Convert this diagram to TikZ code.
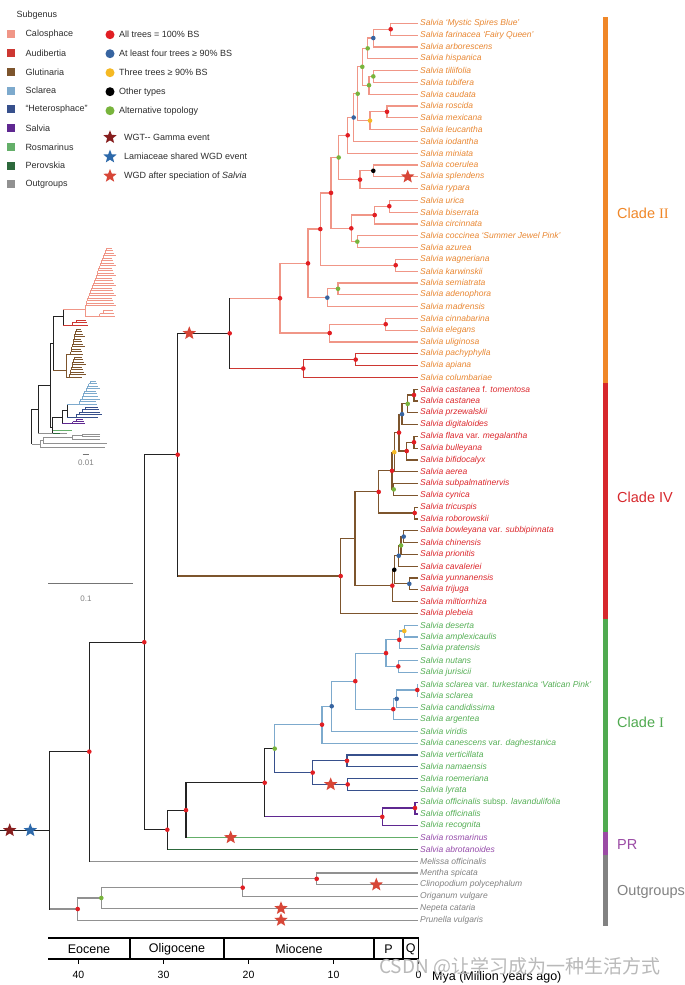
\documentclass[tikz,border=0pt]{standalone}
\usepackage{fontspec}
\setmainfont{Liberation Sans}
\newfontfamily\serifnum{Liberation Serif}
\newfontfamily\cjk{Noto Sans CJK SC}
\usetikzlibrary{shapes.geometric,calc}
\pgfdeclarelayer{front}
\pgfsetlayers{main,front}
\definecolor{calo}{RGB}{240,150,135}
\definecolor{aud}{RGB}{205,55,50}
\definecolor{glut}{RGB}{125,85,45}
\definecolor{scl}{RGB}{125,170,205}
\definecolor{het}{RGB}{55,80,140}
\definecolor{salv}{RGB}{95,40,145}
\definecolor{ros}{RGB}{100,175,105}
\definecolor{per}{RGB}{45,105,60}
\definecolor{outg}{RGB}{145,145,145}
\definecolor{bb}{RGB}{35,35,35}
\definecolor{dR}{RGB}{225,30,35}
\definecolor{dB}{RGB}{55,100,160}
\definecolor{dY}{RGB}{245,185,35}
\definecolor{dG}{RGB}{120,180,60}
\definecolor{dK}{RGB}{0,0,0}
\definecolor{tII}{RGB}{233,135,50}
\definecolor{tIV}{RGB}{220,40,45}
\definecolor{tI}{RGB}{85,175,85}
\definecolor{tPR}{RGB}{150,75,170}
\definecolor{tOut}{RGB}{130,130,130}
\definecolor{barII}{RGB}{240,135,40}
\definecolor{barIV}{RGB}{215,40,45}
\definecolor{barI}{RGB}{80,170,80}
\definecolor{barPR}{RGB}{155,75,165}
\definecolor{barOut}{RGB}{130,130,130}
\definecolor{stR}{RGB}{215,70,55}
\definecolor{stD}{RGB}{135,30,30}
\definecolor{stB}{RGB}{45,105,170}
\definecolor{legtext}{RGB}{45,45,45}
\tikzset{
 br/.style={line width=1.2pt},
 ins/.style={line width=0.7pt},
 lab/.style={anchor=west, inner xsep=2pt, inner ysep=0pt, font=\fontsize{8.5}{10}\selectfont\itshape},
 leg/.style={anchor=west, inner sep=0pt, font=\fontsize{9}{11}\selectfont, text=legtext},
 sq/.style={rectangle, minimum size=8pt, inner sep=0pt, draw=none},
 ldot/.style={circle, minimum size=9pt, inner sep=0pt, draw=none},
 wgd/.style={star, star points=5, star point ratio=2.3, minimum size=14pt, inner sep=0pt, draw=none},
 cl/.style={anchor=west, inner sep=0pt, font=\fontsize{14.5}{16}\selectfont},
 ep/.style={font=\fontsize{12.5}{14}\selectfont, inner sep=0pt},
 tk/.style={font=\fontsize{10.5}{12}\selectfont, inner sep=0pt},
}
\newcommand\tip[3]{%
  \pgfmathsetmacro\ty{23.3+11.8*(#1-1)}%
  \coordinate (t#1) at (418,\ty);
  \node[lab,text=#2] (l#1) at (t#1) {#3};}
\newcommand\ndot[2]{\ifx\relax#2\relax\else\begin{pgfonlayer}{front}\fill[#2] (#1) circle (2.3);\end{pgfonlayer}\fi}
\newcommand\nd[6]{%
  \coordinate (tmp) at ($(#3)!.5!(#4)$);
  \coordinate (xr) at (#2,0);
  \coordinate (#1) at (xr |- tmp);
  \draw[br,#5] (#3) -| (#1) |- (#4);
  \ndot{#1}{#6}}
\newcommand\ndb[8]{%
  \coordinate (tmp) at ($(#3)!.5!(#4)$);
  \coordinate (xr) at (#2,0);
  \coordinate (#1) at (xr |- tmp);
  \draw[br,#6] (#3) -- (#3 -| #1);
  \draw[br,#7] (#4) -- (#4 -| #1);
  \draw[br,#5,line cap=rect] (#3 -| #1) -- (#4 -| #1);
  \ndot{#1}{#8}}
\newcommand\ladder[7]{%
  \pgfmathtruncatemacro\lnum{#2-1}%
  \foreach \kk in {0,...,\lnum}{%
    \pgfmathsetmacro\ly{#3+\kk*#4}%
    \pgfmathsetmacro\lx{#6+(#5-#6)*\kk/\lnum}%
    \pgfmathsetmacro\tx{#7+mod(\kk*5,4)*1.2}%
    \draw[ins,#1] (\lx,\ly) -- (\tx,\ly);
    \ifnum\kk<\lnum\relax
      \pgfmathsetmacro\nly{#3+(\kk+1)*#4}%
      \pgfmathsetmacro\nlx{#6+(#5-#6)*(\kk+1)/\lnum}%
      \draw[ins,#1] (\lx,\ly) -- (\lx,\nly) -- (\nlx,\nly);
    \fi}}
\begin{document}
\begin{tikzpicture}[x=1pt,y=-1pt]
\useasboundingbox (0,0) rectangle (685,985);
\fill[white] (0,0) rectangle (685,985);

% ---------- legend
\node[leg] (lsub) at (16.5,14.7) {Subgenus};
\foreach \c/\t [count=\n from 0] in {calo/Calosphace, aud/Audibertia, glut/Glutinaria, scl/Sclarea, het/{``Heterosphace''}, salv/Salvia, ros/Rosmarinus, per/Perovskia, outg/Outgroups}{
  \pgfmathsetmacro\yy{34.3+18.75*\n}
  \node[sq,fill=\c] (q\n) at (11.3,\yy) {};
  \node[leg] (ql\n) at (25.3,\yy) {\t};
}
\foreach \c/\t [count=\n from 0] in {dR/{All trees = 100\% BS}, dB/{At least four trees ≥ 90\% BS}, dY/{Three trees ≥ 90\% BS}, dK/{Other types}, dG/{Alternative topology}}{
  \pgfmathsetmacro\yy{34.7+19*\n}
  \node[ldot,fill=\c] (ld\n) at (110,\yy) {};
  \node[leg] (ldl\n) at (119,\yy) {\t};
}
\node[wgd,fill=stD] (ls1) at (110,137.3) {};
\node[leg] (lsl1) at (124,137.3) {WGT-{}- Gamma event};
\node[wgd,fill=stB] (ls2) at (110,156.7) {};
\node[leg] (lsl2) at (124,156.7) {Lamiaceae shared WGD event};
\node[wgd,fill=stR] (ls3) at (110,176) {};
\node[leg] (lsl3) at (124,176) {WGD after speciation of \textit{Salvia}};

% ---------- tips
\tip{1}{tII}{Salvia `Mystic Spires Blue'}
\tip{2}{tII}{Salvia farinacea `Fairy Queen'}
\tip{3}{tII}{Salvia arborescens}
\tip{4}{tII}{Salvia hispanica}
\tip{5}{tII}{Salvia tiliifolia}
\tip{6}{tII}{Salvia tubifera}
\tip{7}{tII}{Salvia caudata}
\tip{8}{tII}{Salvia roscida}
\tip{9}{tII}{Salvia mexicana}
\tip{10}{tII}{Salvia leucantha}
\tip{11}{tII}{Salvia iodantha}
\tip{12}{tII}{Salvia miniata}
\tip{13}{tII}{Salvia coerulea}
\tip{14}{tII}{Salvia splendens}
\tip{15}{tII}{Salvia rypara}
\tip{16}{tII}{Salvia urica}
\tip{17}{tII}{Salvia biserrata}
\tip{18}{tII}{Salvia circinnata}
\tip{19}{tII}{Salvia coccinea `Summer Jewel Pink'}
\tip{20}{tII}{Salvia azurea}
\tip{21}{tII}{Salvia wagneriana}
\tip{22}{tII}{Salvia karwinskii}
\tip{23}{tII}{Salvia semiatrata}
\tip{24}{tII}{Salvia adenophora}
\tip{25}{tII}{Salvia madrensis}
\tip{26}{tII}{Salvia cinnabarina}
\tip{27}{tII}{Salvia elegans}
\tip{28}{tII}{Salvia uliginosa}
\tip{29}{tII}{Salvia pachyphylla}
\tip{30}{tII}{Salvia apiana}
\tip{31}{tII}{Salvia columbariae}
\tip{32}{tIV}{Salvia castanea \textup{f.} tomentosa}
\tip{33}{tIV}{Salvia castanea}
\tip{34}{tIV}{Salvia przewalskii}
\tip{35}{tIV}{Salvia digitaloides}
\tip{36}{tIV}{Salvia flava \textup{var.} megalantha}
\tip{37}{tIV}{Salvia bulleyana}
\tip{38}{tIV}{Salvia bifidocalyx}
\tip{39}{tIV}{Salvia aerea}
\tip{40}{tIV}{Salvia subpalmatinervis}
\tip{41}{tIV}{Salvia cynica}
\tip{42}{tIV}{Salvia tricuspis}
\tip{43}{tIV}{Salvia roborowskii}
\tip{44}{tIV}{Salvia bowleyana \textup{var.} subbipinnata}
\tip{45}{tIV}{Salvia chinensis}
\tip{46}{tIV}{Salvia prionitis}
\tip{47}{tIV}{Salvia cavaleriei}
\tip{48}{tIV}{Salvia yunnanensis}
\tip{49}{tIV}{Salvia trijuga}
\tip{50}{tIV}{Salvia miltiorrhiza}
\tip{51}{tIV}{Salvia plebeia}
\tip{52}{tI}{Salvia deserta}
\tip{53}{tI}{Salvia amplexicaulis}
\tip{54}{tI}{Salvia pratensis}
\tip{55}{tI}{Salvia nutans}
\tip{56}{tI}{Salvia jurisicii}
\tip{57}{tI}{Salvia sclarea \textup{var.} turkestanica `Vatican Pink'}
\tip{58}{tI}{Salvia sclarea}
\tip{59}{tI}{Salvia candidissima}
\tip{60}{tI}{Salvia argentea}
\tip{61}{tI}{Salvia viridis}
\tip{62}{tI}{Salvia canescens \textup{var.} daghestanica}
\tip{63}{tI}{Salvia verticillata}
\tip{64}{tI}{Salvia namaensis}
\tip{65}{tI}{Salvia roemeriana}
\tip{66}{tI}{Salvia lyrata}
\tip{67}{tI}{Salvia officinalis \textup{subsp.} lavandulifolia}
\tip{68}{tI}{Salvia officinalis}
\tip{69}{tI}{Salvia recognita}
\tip{70}{tPR}{Salvia rosmarinus}
\tip{71}{tPR}{Salvia abrotanoides}
\tip{72}{tOut}{Melissa officinalis}
\tip{73}{tOut}{Mentha spicata}
\tip{74}{tOut}{Clinopodium polycephalum}
\tip{75}{tOut}{Origanum vulgare}
\tip{76}{tOut}{Nepeta cataria}
\tip{77}{tOut}{Prunella vulgaris}

% ---------- Clade II
\nd{a12}{390.7}{t1}{t2}{calo}{dR}
\nd{a123}{373.3}{a12}{t3}{calo}{dB}
\nd{a1234}{367.7}{a123}{t4}{calo}{dG}
\nd{a56}{373.3}{t5}{t6}{calo}{dG}
\nd{a567}{369}{a56}{t7}{calo}{dG}
\nd{aA}{362.3}{a1234}{a567}{calo}{dG}
\nd{a89}{387}{t8}{t9}{calo}{dR}
\nd{a8910}{370}{a89}{t10}{calo}{dY}
\nd{aB}{357.7}{aA}{a8910}{calo}{dG}
\nd{aC}{353.7}{aB}{t11}{calo}{dB}
\nd{aD}{347.7}{aC}{t12}{calo}{dR}
\nd{a1314}{373.3}{t13}{t14}{calo}{dK}
\nd{a1315}{360}{a1314}{t15}{calo}{dR}
\nd{aE}{338.7}{aD}{a1315}{calo}{dG}
\nd{a1617}{389.3}{t16}{t17}{calo}{dR}
\nd{a1618}{374.7}{a1617}{t18}{calo}{dR}
\nd{a1920}{357.3}{t19}{t20}{calo}{dG}
\nd{aF}{351.3}{a1618}{a1920}{calo}{dR}
\nd{aG}{331}{aE}{aF}{calo}{dR}
\nd{a2122}{395.7}{t21}{t22}{calo}{dR}
\nd{aH}{320.3}{aG}{a2122}{calo}{dR}
\nd{a2324}{338}{t23}{t24}{calo}{dG}
\nd{a2325}{327.3}{a2324}{t25}{calo}{dB}
\nd{aI}{308}{aH}{a2325}{calo}{dR}
\nd{a2627}{385.7}{t26}{t27}{calo}{dR}
\nd{a2628}{329.7}{a2627}{t28}{calo}{dR}
\nd{aJ}{280}{aI}{a2628}{calo}{dR}
\nd{b2930}{355.7}{t29}{t30}{aud}{dR}
\nd{b31}{303.3}{b2930}{t31}{aud}{dR}
\ndb{cIIA}{229.7}{aJ}{b31}{bb}{calo}{aud}{dR}

% ---------- Clade IV
\nd{g3233}{414}{t32}{t33}{glut}{dR}
\nd{g34}{407.7}{g3233}{t34}{glut}{dG}
\nd{g35}{402}{g34}{t35}{glut}{dB}
\nd{g3637}{414}{t36}{t37}{glut}{dR}
\nd{g38}{406.7}{g3637}{t38}{glut}{dR}
\nd{gK}{399}{g35}{g38}{glut}{dR}
\nd{gL}{394.3}{gK}{t39}{glut}{dY}
\nd{g4041}{393.7}{t40}{t41}{glut}{dG}
\nd{gM}{392}{gL}{g4041}{glut}{dR}
\nd{g4243}{414.7}{t42}{t43}{glut}{dR}
\nd{gN}{378.7}{gM}{g4243}{glut}{dR}
\nd{g4445}{403.7}{t44}{t45}{glut}{dB}
\nd{g46}{401}{g4445}{t46}{glut}{dG}
\nd{g47}{398.7}{g46}{t47}{glut}{dB}
\nd{g4849}{409.3}{t48}{t49}{glut}{dB}
\nd{gO}{394.3}{g47}{g4849}{glut}{dK}
\nd{gP}{392.3}{gO}{t50}{glut}{dR}
\nd{gQ}{355}{gN}{gP}{glut}{}
\nd{gR}{340.7}{gQ}{t51}{glut}{dR}
\ndb{cIIIV}{177.7}{cIIA}{gR}{bb}{bb}{glut}{dR}

% ---------- Clade I, PR
\nd{s5253}{404.3}{t52}{t53}{scl}{dY}
\nd{s54}{399.3}{s5253}{t54}{scl}{dR}
\nd{s5556}{398.3}{t55}{t56}{scl}{dR}
\nd{sA}{386}{s54}{s5556}{scl}{dR}
\nd{s5758}{417.3}{t57}{t58}{scl}{dR}
\nd{s59}{396.7}{s5758}{t59}{scl}{dB}
\nd{s60}{393.3}{s59}{t60}{scl}{dR}
\nd{sB}{355.3}{sA}{s60}{scl}{dR}
\nd{sC}{331.7}{sB}{t61}{scl}{dB}
\nd{sD}{322}{sC}{t62}{scl}{dR}
\nd{h6364}{347}{t63}{t64}{het}{dR}
\nd{h6566}{347.7}{t65}{t66}{het}{dR}
\nd{hA}{312.7}{h6364}{h6566}{het}{dR}
\coordinate (tmp) at ($(sD)!.5!(hA)$);
\coordinate (xr) at (274.7,0);
\coordinate (cSH) at (xr |- tmp);
\draw[br,scl] (sD) -| (cSH);
\draw[br,het] (hA) -| (cSH);
\ndot{cSH}{dG}
\nd{v6768}{415}{t67}{t68}{salv}{dR}
\nd{v69}{382.3}{v6768}{t69}{salv}{dR}
\ndb{cSHV}{264.7}{cSH}{v69}{bb}{bb}{salv}{dR}
\ndb{cR}{186}{cSHV}{t70}{bb}{bb}{ros}{dR}
\ndb{cP}{167.3}{cR}{t71}{bb}{bb}{per}{dR}
\nd{cMain}{144.3}{cIIIV}{cP}{bb}{dR}
\ndb{cMel}{89.3}{cMain}{t72}{bb}{bb}{outg}{dR}

% ---------- outgroups
\nd{o7374}{316.7}{t73}{t74}{outg}{dR}
\nd{o75}{242.7}{o7374}{t75}{outg}{dR}
\nd{o76}{101.3}{o75}{t76}{outg}{dG}
\nd{o77}{77.7}{o76}{t77}{outg}{dR}
\ndb{root}{49.3}{cMel}{o77}{bb}{bb}{outg}{}
\coordinate (x0) at (0,0);
\draw[br,bb] (x0 |- root) -- (root);

% ---------- stars
\node[wgd,fill=stD] (sr1) at ($(root)+(-39.6,0)$) {};
\node[wgd,fill=stB] (sr2) at ($(root)+(-19,0)$) {};
\node[wgd,fill=stR] (st1) at ($(cIIA)+(-40.4,0)$) {};
\node[wgd,fill=stR] (st2) at ($(t14)+(-10.3,0)$) {};
\node[wgd,fill=stR] (st3) at ($(h6566)+(-17,0)$) {};
\node[wgd,fill=stR] (st4) at ($(t70)+(-187.3,0)$) {};
\node[wgd,fill=stR] (st5) at ($(t74)+(-41.7,0)$) {};
\node[wgd,fill=stR] (st6) at ($(t76)+(-137,0)$) {};
\node[wgd,fill=stR] (st7) at ($(t77)+(-137,0)$) {};

% ---------- clade bar
\draw[line width=5pt,barII] (605.5,17.4) -- (605.5,383.2);
\draw[line width=5pt,barIV] (605.5,383.2) -- (605.5,619.2);
\draw[line width=5pt,barI] (605.5,619.2) -- (605.5,831.6);
\draw[line width=5pt,barPR] (605.5,831.6) -- (605.5,855.2);
\draw[line width=5pt,barOut] (605.5,855.2) -- (605.5,926);
\node[cl,text=barII] (c2) at (617,213) {Clade {\serifnum II}};
\node[cl,text=barIV] (c4) at (617,497) {Clade IV};
\node[cl,text=barI] (c1) at (617,722) {Clade {\serifnum I}};
\node[cl,text=barPR] (cpr) at (617,845) {PR};
\node[cl,text=barOut] (cout) at (617,892) {Outgroups};

% ---------- time axis
\draw[line width=1.1pt] (48,938) -- (418.5,938) (48,959) -- (418.5,959);
\foreach \xx in {130,224,374,403,418.5} \draw[line width=1.1pt] (\xx,938) -- (\xx,959);
\node[ep] (e1) at (89,949) {Eocene};
\node[ep] (e2) at (177,949) {Oligocene};
\node[ep] (e3) at (299,949) {Miocene};
\node[ep] (e4) at (388.5,949) {P};
\node[ep] (e5) at (410.7,949) {Q};
\foreach \t in {40,30,20,10,0}{
  \pgfmathsetmacro\xx{418.5-8.5*\t}
  \draw[line width=0.9pt] (\xx,959) -- (\xx,964);
  \node[tk] (tk\t) at (\xx,975) {\t};
}
\node[anchor=west,inner sep=0pt,font=\fontsize{12.5}{14}\selectfont] (mya) at (432,977) {Mya (Million years ago)};

% ---------- inset tree
\draw[ins,bb] (38.3,409.3) -| (31.7,444);
\draw[ins,outg] (31.7,444) -- (40,444);
\draw[ins,bb] (50,385.3) -| (38.3,433.3);
\draw[ins,outg] (38.3,433.3) -- (66.7,433.3);
\draw[ins,bb] (53.3,343.3) -| (50,427) -- (52.5,427);
\draw[ins,bb] (63.3,316.7) -| (53.3,370);
\draw[ins,glut] (53.3,370) -- (66.7,370);
\draw[ins,bb] (63.3,309) -- (63.3,325);
\draw[ins,calo] (63.3,309) -- (85,309);
\draw[ins,aud] (63.3,325) -- (68.3,325);
\ladder{calo}{24}{248.3}{2.5}{85}{106}{112}
\draw[ins,calo] (85,305.8) -- (85,316.5) -- (96,316.5);
\ladder{calo}{3}{310.5}{3}{96}{103}{113}
\ladder{aud}{3}{320}{2.5}{68.3}{76}{86}
\draw[ins,glut] (70,354) -| (66.7,377) -- (68.5,377);
\ladder{glut}{11}{329}{2.5}{70}{76}{81}
\ladder{glut}{9}{357}{2.5}{68.5}{74}{82}
\draw[ins,bb] (62,417) -| (52.5,433);
\draw[ins,ros] (52.5,430.5) -- (71.7,430.5);
\draw[ins,per] (52.5,433) -- (60,433);
\draw[ins,bb] (67,410.5) -| (62,423.5);
\draw[ins,salv] (62,423.5) -- (69,423.5);
\ladder{salv}{3}{419.5}{2}{69}{76}{83}
\draw[ins,bb] (67,404) -- (67,417);
\draw[ins,scl] (67,404) -- (78,404);
\ladder{scl}{10}{381}{2.555}{78}{90}{96}
\draw[ins,het] (67,417) -- (73,417);
\ladder{het}{5}{407}{2.5}{73}{85}{98}
\draw[ins,outg] (43.3,440) -| (40,447) -- (105,447);
\draw[ins,outg] (72,437) -| (43.3,443) -- (107,443);
\draw[ins,outg] (82,435) -| (72,439) -- (100,439);
\draw[ins,outg] (100,434) -| (82,436) -- (100,436);
\draw[line width=0.9pt,outg!80!black] (82.7,454) -- (89.3,454);
\node[font=\fontsize{8}{9}\selectfont,text=outg!90!black,inner sep=0pt] (sb1) at (86,463) {0.01};
\draw[line width=0.9pt,outg!80!black] (48.3,583.3) -- (132.7,583.3);
\node[font=\fontsize{8}{9}\selectfont,text=outg!90!black,inner sep=0pt] (sb2) at (86,599) {0.1};

% ---------- watermark
\node[anchor=west,inner sep=0pt,text=gray!55,font=\cjk\fontsize{19}{20}\selectfont] (wm) at (379,967) {CSDN @让学习成为一种生活方式};
\end{tikzpicture}
\end{document}
